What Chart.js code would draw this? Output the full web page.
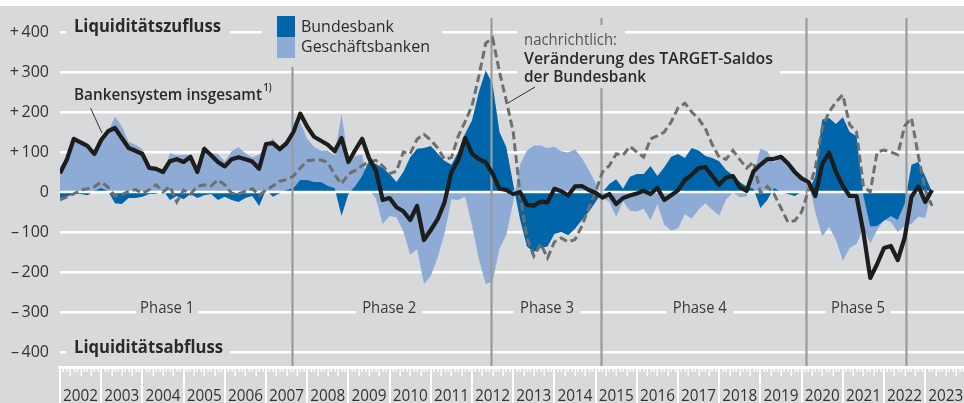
<!DOCTYPE html>
<html><head><meta charset="utf-8">
<script src="https://cdn.jsdelivr.net/npm/chart.js@4.4.0/dist/chart.umd.min.js"></script>
<style>html,body{margin:0;padding:0;background:#fff;overflow:hidden}#wrap{width:964px;height:403px;position:relative}</style>
</head><body><div id="wrap"><canvas id="c" width="964" height="403"></canvas></div>
<script>
// ---- data (bi-monthly values, Mrd €, starting January 2002) ----
const startYear = 2002;
const stepMonths = 2;
const bankensystem = [47,81,133,124,115,95,130,152,160,135,
 110,103,95,60,58,50,77,82,75,88,
 50,108,92,75,64,82,87,82,76,58,
 120,122,107,122,150,196,163,138,128,118,
 102,135,75,105,133,85,54,-20,-15,-38,
 -48,-70,-35,-120,-95,-68,-26,50,80,135,
 96,82,74,46,8,5,-5,0,-32,-34,
 -24,-26,8,2,-9,14,15,5,-2,-14,
 -5,-30,-15,-9,-4,3,-5,10,-20,-8,
 4,30,43,60,62,40,18,36,40,12,
 3,52,68,82,83,88,72,50,34,25,
 -10,70,98,50,15,-10,-10,-100,-215,-180,
 -140,-135,-170,-115,-12,14,-25,5];
const bundesbank = [-15,-12,-5,-5,-8,3,10,2,-28,-30,
 -15,-15,-12,-5,-5,5,-20,-10,-18,-5,
 -15,-8,-5,-20,-12,-20,-25,-15,-10,-35,
 5,-12,-3,5,10,30,30,25,25,15,
 10,-60,-5,15,40,78,70,60,45,25,
 50,87,108,110,115,96,78,68,100,146,
 179,250,304,270,150,112,20,-69,-136,-150,
 -140,-136,-105,-100,-108,-92,-70,-50,-25,0,
 20,32,8,38,45,45,65,40,62,88,
 95,85,110,104,90,85,77,55,42,25,
 14,8,-40,-20,10,0,-5,-10,0,0,
 40,181,185,170,187,150,140,-10,-86,-85,
 -72,-60,-70,-30,68,75,40,0];
const geschaeftsbanken = [62,93,138,129,123,92,120,150,188,165,
 125,118,107,65,63,45,97,92,93,93,
 65,116,97,95,76,102,112,97,86,93,
 115,134,110,117,140,175,133,113,103,103,
 92,195,80,90,93,7,-16,-80,-60,-63,
 -98,-157,-143,-230,-210,-164,-104,-18,-20,-11,
 -83,-168,-230,-224,-142,-107,-25,69,104,116,
 116,110,113,102,99,106,85,55,23,-14,
 -25,-62,-23,-47,-49,-42,-70,-30,-82,-96,
 -91,-55,-67,-44,-28,-45,-59,-19,-2,-13,
 -11,44,108,102,73,88,77,60,34,25,
 -50,-111,-87,-120,-172,-140,-130,-90,-129,-95,
 -68,-75,-100,-85,-80,-61,-65,5];
const targetSaldo = [-20,-12,-5,5,8,13,25,12,-10,-7,
 2,6,-3,6,18,0,14,-25,5,-5,
 14,18,15,30,18,-3,-5,2,8,-8,
 5,15,27,31,40,60,78,80,80,74,
 43,20,45,54,66,75,79,65,46,52,
 100,96,132,144,130,110,82,86,140,176,
 215,290,372,385,300,228,150,-5,-115,-160,
 -130,-165,-125,-115,-125,-119,-85,-40,0,50,
 66,95,92,114,100,87,133,140,150,175,
 210,222,200,183,158,118,87,82,104,81,
 60,75,-2,14,-5,-40,-75,-72,-50,5,
 60,160,200,225,243,168,150,14,0,100,
 105,100,93,165,185,90,5,-35];
const yearLabels = ['2002','2003','2004','2005','2006','2007','2008','2009','2010','2011','2012','2013','2014','2015','2016','2017','2018','2019','2020','2021','2022','2023'];
const yTickValues = [400,300,200,100,0,-100,-200,-300,-400];
const phaseBreaks = [2007.63, 2012.46, 2015.13, 2020.11, 2022.53];
const phaseLabels = ['Phase 1','Phase 2','Phase 3','Phase 4','Phase 5'];
const phaseLabelAt = [2004.6, 2009.99, 2013.82, 2017.53, 2021.37];

const toPoints = arr => arr.map((v, i) => ({x: startYear + i * stepMonths / 12, y: v}));

const BG = '#d8d9db';
const FONT = '"Open Sans", "Noto Sans", sans-serif';

function txt(ctx, str, x, base, size, weight, color, targetW, align) {
  ctx.save();
  ctx.font = weight + ' ' + size + 'px ' + FONT;
  ctx.fillStyle = color;
  ctx.textBaseline = 'alphabetic';
  ctx.textAlign = 'left';
  const w = ctx.measureText(str).width;
  const sx = targetW ? targetW / w : 1;
  ctx.translate(x, base);
  ctx.scale(sx, 1);
  ctx.fillText(str, align === 'center' ? -w / 2 : (align === 'right' ? -w : 0), 0);
  ctx.restore();
}

const deco = {
  id: 'deco',
  beforeDraw(chart) {
    const ctx = chart.ctx;
    ctx.save();
    ctx.fillStyle = '#fff';
    ctx.fillRect(0, 0, chart.width, chart.height);
    ctx.fillStyle = BG;
    ctx.fillRect(0, 6, chart.width, chart.height - 6);
    ctx.restore();
  },
  beforeDatasetsDraw(chart) {
    const ctx = chart.ctx;
    const xs = chart.scales.x;
    ctx.save();
    ctx.fillStyle = BG;
    ctx.fillRect(66, 18, 164, 22);   // Liquiditätszufluss
    ctx.fillRect(262, 10, 180, 56);  // legend
    ctx.fillRect(517, 25, 108, 22);  // nachrichtlich
    ctx.fillRect(517, 47, 263, 41);  // annotation
    ctx.fillRect(66, 337, 164, 20);  // Liquiditätsabfluss
    const pw = [62, 66, 67, 67, 65];
    phaseLabelAt.forEach((t, i) => {
      const cx = xs.getPixelForValue(t);
      ctx.fillRect(cx - pw[i] / 2, 302, pw[i], 16);
    });
    ctx.restore();
  },
  afterDatasetDraw(chart, args) {
    if (args.index !== 2) return;
    const ctx = chart.ctx;
    const xs = chart.scales.x, ys = chart.scales.y;
    const a = chart.chartArea;
    ctx.save();
    ctx.strokeStyle = '#fff';
    ctx.lineWidth = 2.5;
    ctx.beginPath();
    ctx.moveTo(a.left, ys.getPixelForValue(0));
    ctx.lineTo(a.right, ys.getPixelForValue(0));
    ctx.stroke();
    ctx.strokeStyle = '#9a9b9d';
    ctx.lineWidth = 2.2;
    phaseBreaks.forEach((t, i) => {
      const x = Math.round(xs.getPixelForValue(t)) + 0.5;
      ctx.beginPath();
      if (i === 0) { ctx.moveTo(x, 67); ctx.lineTo(x, 366); }
      else if (i === 2) { ctx.moveTo(x, 18); ctx.lineTo(x, 25); ctx.moveTo(x, 88); ctx.lineTo(x, 366); }
      else { ctx.moveTo(x, 18); ctx.lineTo(x, 366); }
      ctx.stroke();
    });
    ctx.restore();
  },
  afterDraw(chart) {
    const ctx = chart.ctx;
    const xs = chart.scales.x;
    ctx.save();
    ctx.fillStyle = '#fff';
    ctx.fillRect(58, 366, chart.width - 58, 3);
    for (let y = 0; y <= yearLabels.length; y++) {
      const x0 = xs.getPixelForValue(startYear + y);
      if (x0 > chart.width + 1) break;
      ctx.fillRect(Math.round(x0) - 1, 366, 2, 37);
      for (let m = 1; m < 12; m++) {
        const xm = xs.getPixelForValue(startYear + y + m / 12);
        if (xm > chart.width) break;
        const len = (m % 3 === 0) ? 10 : 6;
        ctx.fillRect(Math.round(xm) - 0.5, 366, 1.4, len);
      }
    }
    yearLabels.forEach((lab, i) => {
      const cx = xs.getPixelForValue(startYear + i + 0.5);
      txt(ctx, lab, cx, 401, 16, '400', '#333', 35, 'center');
    });
    const dark = '#2b2a29';
    txt(ctx, 'Liquiditätszufluss', 74, 31.5, 18, '700', dark, 147);
    txt(ctx, 'Liquiditätsabfluss', 74, 352.5, 18, '700', dark, 149);
    ctx.fillStyle = '#0065a9'; ctx.fillRect(277, 16, 18, 21);
    ctx.fillStyle = '#8dabd5'; ctx.fillRect(277, 37, 18, 21);
    txt(ctx, 'Bundesbank', 301, 32, 16, '400', dark, 93);
    txt(ctx, 'Geschäftsbanken', 301, 52, 16, '400', dark, 129);
    txt(ctx, 'Bankensystem insgesamt', 74, 100, 16, '600', dark, 188);
    txt(ctx, '1)', 263.5, 91, 10, '600', dark, 8);
    ctx.strokeStyle = '#333'; ctx.lineWidth = 1;
    ctx.beginPath(); ctx.moveTo(90.5, 108); ctx.lineTo(102, 133); ctx.stroke();
    txt(ctx, 'nachrichtlich:', 524, 45, 16, '400', '#555', 93);
    txt(ctx, 'Veränderung des TARGET-Saldos', 524, 63.5, 16, '600', dark, 249);
    txt(ctx, 'der Bundesbank', 524, 82, 16, '600', dark, 122);
    ctx.beginPath(); ctx.moveTo(535, 87); ctx.lineTo(508, 103); ctx.stroke();
    phaseLabelAt.forEach((t, i) => {
      txt(ctx, phaseLabels[i], xs.getPixelForValue(t), 313, 16, '400', '#3a3a3a', 54, 'center');
    });
    ctx.restore();
  }
};

const fmt = v => v > 0 ? '+\u2009' + v : (v < 0 ? '\u2013\u2009' + Math.abs(v) : '0');

new Chart(document.getElementById('c'), {
  type: 'line',
  data: {
    datasets: [
      {label: 'Bankensystem insgesamt', data: toPoints(bankensystem), borderColor: '#1d1d1b', borderWidth: 4.2, pointRadius: 0, fill: false, tension: 0, borderJoinStyle: 'round'},
      {label: 'Veränderung des TARGET-Saldos', data: toPoints(targetSaldo), borderColor: '#6e6f71', borderWidth: 3, borderDash: [8, 4], pointRadius: 0, fill: false, tension: 0},
      {label: 'Bundesbank', data: toPoints(bundesbank), borderColor: 'rgba(0,0,0,0)', borderWidth: 0, backgroundColor: '#0065a9', pointRadius: 0, fill: 'origin', tension: 0},
      {label: 'Geschäftsbanken', data: toPoints(geschaeftsbanken), borderColor: 'rgba(0,0,0,0)', borderWidth: 0, backgroundColor: '#8dabd5', pointRadius: 0, fill: 'origin', tension: 0}
    ]
  },
  options: {
    responsive: false, animation: false, devicePixelRatio: 1,
    layout: {padding: {top: 32, bottom: 51, left: 0, right: 0}},
    plugins: {legend: {display: false}, tooltip: {enabled: false}, title: {display: false}},
    scales: {
      x: {type: 'linear', min: 2002, max: 2002 + 904 / 41.2, display: false},
      y: {
        min: -400, max: 400,
        afterFit(s) { s.width = 60; },
        afterBuildTicks(s) { s.ticks = yTickValues.map(v => ({value: v})); },
        ticks: {callback: v => fmt(v), color: '#333', font: {family: FONT, size: 16}, padding: 11},
        grid: {color: '#ffffff', lineWidth: 2.5, drawTicks: false},
        border: {display: false}
      }
    }
  },
  plugins: [deco]
});
</script>
</body></html>
